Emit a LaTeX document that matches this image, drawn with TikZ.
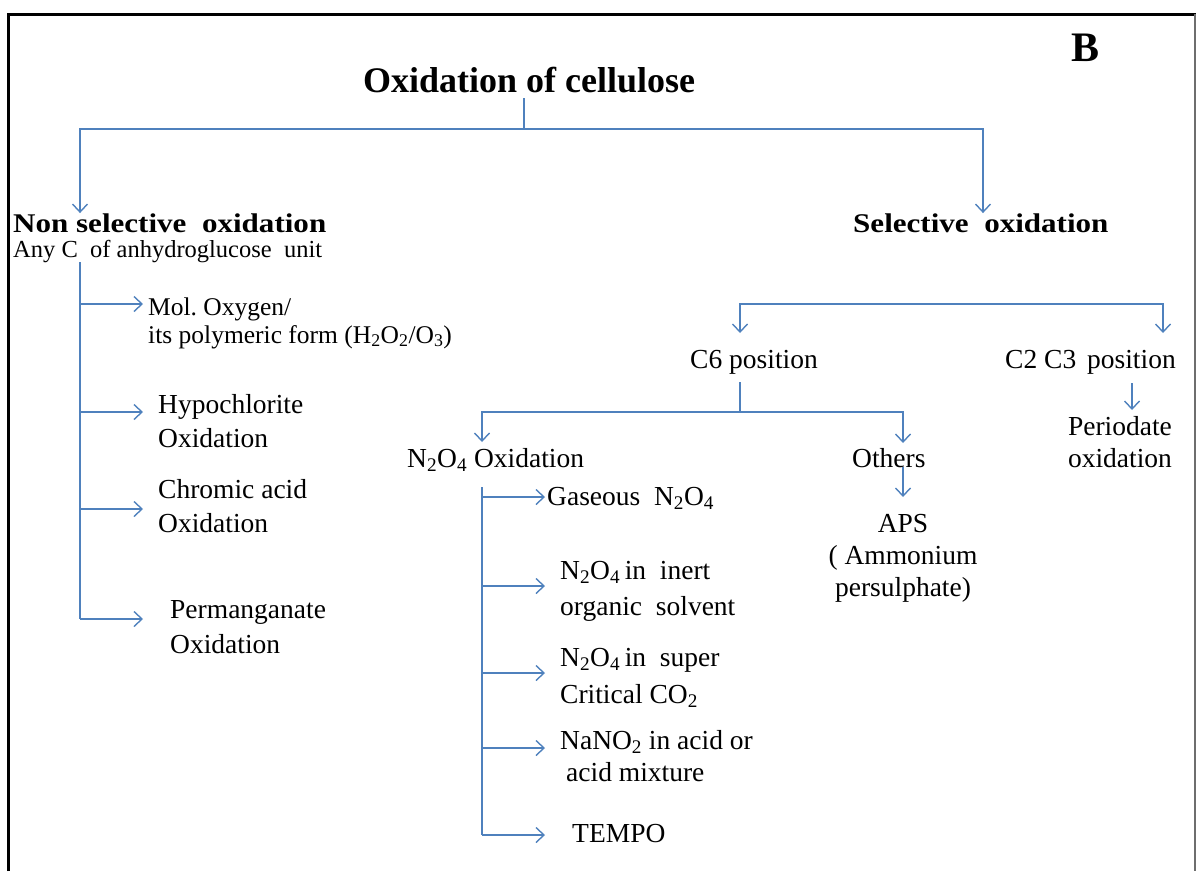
\documentclass[tikz,border=0pt]{standalone}
\usepackage{fontspec}
\setmainfont{Liberation Serif}
\usetikzlibrary{arrows.meta}
\definecolor{connc}{RGB}{79,129,189}
\definecolor{framegray}{RGB}{110,110,110}
\newcommand\twoline[3]{\vtop{\baselineskip=#1\hbox{#2}\hbox{#3}}}
\newcommand\twolinec[3]{\vtop{\baselineskip=#1\halign{\hfil##\hfil\cr#2\cr#3\cr}}}
\newcommand\threelinec[4]{\vtop{\baselineskip=#1\halign{\hfil##\hfil\cr#2\cr#3\cr#4\cr}}}
\newcommand\hstr[1]{\scalebox{1.15}[1]{#1}}
\newcommand\sbs[1]{\textsubscript{#1}}
\frenchspacing
\begin{document}
\begin{tikzpicture}[x=1pt,y=-1pt,
  conn/.style={draw=connc,line width=1.4pt},
  arr/.style={conn,-{Straight Barb[length=8pt,width=15pt]}},
  txt/.style={inner sep=0pt,anchor=base west,text=black,font=\fontsize{27.5}{33}\selectfont},
  head/.style={txt,font=\fontsize{27}{30}\selectfont\bfseries}]
\useasboundingbox (0,0) rectangle (1196,871);
% frame
\draw[line width=3pt] (8,871) -- (8,14) -- (1196,14);
\draw[line width=1.5pt,framegray] (1195,14) -- (1195,871);

% labels
\node[txt,anchor=base,font=\fontsize{36}{40}\selectfont\bfseries] (title) at (529,92) {Oxidation of cellulose};
\node[txt,anchor=base,font=\fontsize{42}{46}\selectfont\bfseries] (blabel) at (1085,61) {B};
\node[head] (nonsel) at (13,232) {\hstr{Non selective\ \ oxidation}};
\node[head] (sel) at (853,232) {\hstr{Selective\ \ oxidation}};
\node[txt,font=\fontsize{24.5}{28}\selectfont] (anyc) at (13,257) {Any C\ \ of anhydroglucose\ \ unit};
\node[txt,font=\fontsize{25.5}{30}\selectfont] (mol) at (148,315) {\twoline{28pt}{Mol. Oxygen/}{its polymeric\ form (H\sbs{2}O\sbs{2}/O\sbs{3})}};
\node[txt] (hypo) at (158,413) {\twoline{34pt}{Hypochlorite}{Oxidation}};
\node[txt] (chrom) at (158,498) {\twoline{34pt}{Chromic acid}{Oxidation}};
\node[txt] (perm) at (170,618) {\twoline{35pt}{Permanganate}{Oxidation}};
\node[txt] (c6) at (690,368) {C6 position};
\node[txt] (c23) at (1005,368) {C2 C3\hspace{4pt} position};
\node[txt,anchor=base] (perio) at (1120,435) {\twolinec{32pt}{Periodate}{oxidation}};
\node[txt] (n2o4) at (407,467) {N\sbs{2}O\sbs{4} Oxidation};
\node[txt] (others) at (852,467) {Others};
\node[txt,anchor=base] (aps) at (903,532) {\threelinec{32pt}{APS}{( Ammonium}{persulphate)}};
\node[txt] (gas) at (547,505) {Gaseous\ \ N\sbs{2}O\sbs{4}};
\node[txt] (inert) at (560,579) {\twoline{36pt}{N\sbs{2}O\sbs{4}\,in\ \ inert}{organic\ \ solvent}};
\node[txt] (super) at (560,666) {\twoline{37pt}{N\sbs{2}O\sbs{4}\,in\ \ super}{Critical CO\sbs{2}}};
\node[txt] (nano) at (560,749) {\twoline{32pt}{NaNO\sbs{2} in acid or}{\hspace{6pt}acid mixture}};
\node[txt] (tempo) at (572,842) {TEMPO};

% junction coordinates
\coordinate (t0) at (524,98);
\coordinate (j0) at (524,129);
\coordinate (jL) at (80,129);
\coordinate (jR) at (983,129);
\coordinate (lsEnd) at (80,619);
\coordinate (selBar) at (951,304);
\coordinate (c6tipL) at (740,333);
\coordinate (c23tip) at (1163,333);
\coordinate (c6s) at (740,382);
\coordinate (c6j) at (740,412);
\coordinate (n2tip) at (482,442);
\coordinate (othtip) at (903,443);
\coordinate (apsS) at (903,467);
\coordinate (apstip) at (903,497);
\coordinate (c23s) at (1132,383);
\coordinate (periotip) at (1132,410);
\coordinate (nsS) at (482,487);
\coordinate (nsEnd) at (482,835);

% connectors
\draw[conn] (t0) -- (j0);
\draw[arr] (j0) -| (jL |- nonsel.north);
\draw[arr] (j0) -| (jR |- sel.north);
\draw[conn] (anyc.south -| jL) -- (lsEnd);
\draw[arr] (80,304) -- (143,304);
\draw[arr] (80,412) -- (143,412);
\draw[arr] (80,509) -- (143,509);
\draw[arr] (lsEnd) -- (143,619);

\draw[arr] (selBar) -| (c6tipL);
\draw[arr] (selBar) -| (c23tip);
\draw[conn] (c6s) -- (c6j);
\draw[arr] (c6j) -| (n2tip);
\draw[arr] (c6j) -| (othtip);
\draw[arr] (apsS) -- (apstip);
\draw[arr] (c23s) -- (periotip);

\draw[conn] (nsS) -- (nsEnd);
\draw[arr] (482,497) -- (545,497);
\draw[arr] (482,586) -- (545,586);
\draw[arr] (482,673) -- (545,673);
\draw[arr] (482,748) -- (545,748);
\draw[arr] (nsEnd) -- (545,835);
\end{tikzpicture}
\end{document}
